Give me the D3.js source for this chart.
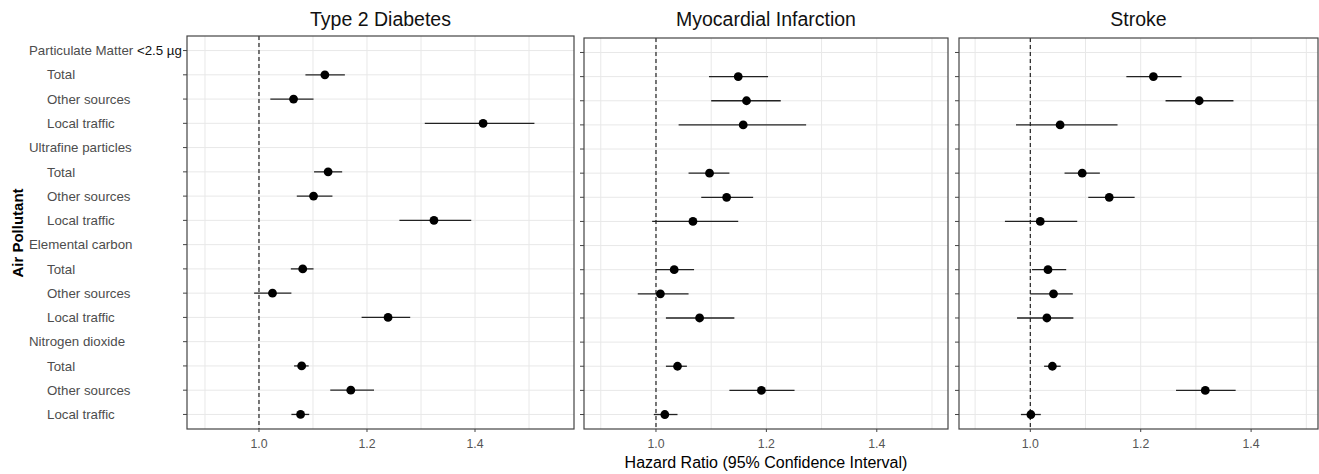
<!DOCTYPE html>
<html>
<head>
<meta charset="utf-8">
<script src="https://cdn.jsdelivr.net/npm/d3@7"></script>
<style>
  body { margin: 0; background: #fff; }
  svg { font-family: "Liberation Sans", Arial, sans-serif; }
</style>
</head>
<body>
<svg id="chart" width="1319" height="474"></svg>
<script>
// row labels
const pollutants = ["Particulate Matter <2.5 µg", "Ultrafine particles", "Elemental carbon", "Nitrogen dioxide"];
const sources = ["Total", "Other sources", "Local traffic"];
const outcomes = ["Type 2 Diabetes", "Myocardial Infarction", "Stroke"];
const xTicks = [1.0, 1.2, 1.4];
const xGrid = [0.9, 1.0, 1.1, 1.2, 1.3, 1.4, 1.5];

// hazard ratios, ordered pollutant by source (Total, Other, Local)
const t2dHR = [1.122, 1.064, 1.415, 1.128, 1.101, 1.324, 1.081, 1.025, 1.239, 1.079, 1.170, 1.077];
const t2dLo = [1.086, 1.021, 1.307, 1.102, 1.070, 1.260, 1.059, 0.991, 1.190, 1.065, 1.132, 1.060];
const t2dHi = [1.159, 1.101, 1.510, 1.154, 1.136, 1.393, 1.101, 1.060, 1.280, 1.092, 1.213, 1.093];

const miHR = [1.149, 1.164, 1.158, 1.097, 1.128, 1.067, 1.033, 1.008, 1.079, 1.039, 1.191, 1.016];
const miLo = [1.096, 1.100, 1.041, 1.059, 1.082, 0.993, 1.000, 0.967, 1.018, 1.018, 1.133, 0.996];
const miHi = [1.203, 1.226, 1.272, 1.133, 1.176, 1.149, 1.069, 1.059, 1.142, 1.056, 1.251, 1.039];

const strokeHR = [1.223, 1.306, 1.054, 1.094, 1.143, 1.018, 1.032, 1.042, 1.030, 1.040, 1.317, 1.001];
const strokeLo = [1.174, 1.245, 0.974, 1.062, 1.105, 0.954, 1.003, 1.000, 0.976, 1.025, 1.264, 0.983];
const strokeHi = [1.274, 1.368, 1.158, 1.126, 1.189, 1.085, 1.065, 1.077, 1.078, 1.055, 1.372, 1.019];

const series = [
    { hr: t2dHR, lo: t2dLo, hi: t2dHi },
    { hr: miHR, lo: miLo, hi: miHi },
    { hr: strokeHR, lo: strokeLo, hi: strokeHi }
];

// panel boxes (pixels) and x domains, the panels were scaled differently
const panels = [
    { left: 187, right: 574, top: 36, bottom: 429, domain: [0.8667, 1.5833] },
    { left: 584, right: 948, top: 38, bottom: 429, domain: [0.8696, 1.5290] },
    { left: 959, right: 1318, top: 38, bottom: 429, domain: [0.8708, 1.5212] }
];

// one row per pollutant header, then its three sources
let rows = [];
pollutants.forEach(p => {
    rows.push({ key: p, label: p, header: true });
    sources.forEach(s => rows.push({ key: p + "|" + s, label: s, header: false }));
});

let svg = d3.select("#chart");

panels.forEach((pn, k) => {
    let x = d3.scaleLinear().domain(pn.domain).range([pn.left, pn.right]);
    let y = d3.scalePoint().domain(rows.map(r => r.key)).range([pn.top, pn.bottom]).padding(0.6);

    let g = svg.append("g");

    // grid
    g.selectAll(".hgrid").data(rows).enter().append("line")
        .attr("x1", pn.left).attr("x2", pn.right)
        .attr("y1", d => y(d.key)).attr("y2", d => y(d.key))
        .style("stroke", "#e8e8e8").style("stroke-width", 1);
    g.selectAll(".vgrid").data(xGrid.filter(v => x(v) < pn.right)).enter().append("line")
        .attr("x1", d => x(d)).attr("x2", d => x(d))
        .attr("y1", pn.top).attr("y2", pn.bottom)
        .style("stroke", "#e8e8e8").style("stroke-width", 1);

    // reference line at 1
    g.append("line")
        .attr("x1", x(1)).attr("x2", x(1))
        .attr("y1", pn.top).attr("y2", pn.bottom)
        .style("stroke", "#222").style("stroke-width", 1.2)
        .style("stroke-dasharray", "4,3");

    // estimates
    let pts = [];
    pollutants.forEach((p, i) => {
        sources.forEach((s, j) => {
            let n = i * 3 + j;
            pts.push({ key: p + "|" + s, hr: series[k].hr[n], lo: series[k].lo[n], hi: series[k].hi[n] });
        });
    });

    g.selectAll(".ci").data(pts).enter().append("line")
        .attr("x1", d => x(d.lo)).attr("x2", d => x(d.hi))
        .attr("y1", d => y(d.key)).attr("y2", d => y(d.key))
        .style("stroke", "#222").style("stroke-width", 1.3);

    g.selectAll(".pt").data(pts).enter().append("circle")
        .attr("cx", d => x(d.hr)).attr("cy", d => y(d.key))
        .attr("r", 4.4)
        .style("fill", "#000");

    // border
    g.append("rect")
        .attr("x", pn.left).attr("y", pn.top)
        .attr("width", pn.right - pn.left).attr("height", pn.bottom - pn.top)
        .style("fill", "none").style("stroke", "#444").style("stroke-width", 1.2);

    // y ticks
    g.selectAll(".ytick").data(rows).enter().append("line")
        .attr("x1", pn.left - 4).attr("x2", pn.left)
        .attr("y1", d => y(d.key)).attr("y2", d => y(d.key))
        .style("stroke", "#444").style("stroke-width", 1);

    // x axis
    g.selectAll(".xtick").data(xTicks).enter().append("line")
        .attr("x1", d => x(d)).attr("x2", d => x(d))
        .attr("y1", pn.bottom).attr("y2", pn.bottom + 3)
        .style("stroke", "#444").style("stroke-width", 1);
    g.selectAll(".xlab").data(xTicks).enter().append("text")
        .attr("x", d => x(d)).attr("y", 448)
        .attr("text-anchor", "middle")
        .style("font-size", "12.3px").style("fill", "#555")
        .text(d => d.toFixed(1));

    // title
    g.append("text")
        .attr("x", (pn.left + pn.right) / 2).attr("y", 26)
        .attr("text-anchor", "middle")
        .style("font-size", "19.5px").style("fill", "#111")
        .text(outcomes[k]);

    // row labels only on the first panel
    if (k === 0) {
        let lab = g.selectAll(".ylab").data(rows).enter().append("text")
            .attr("x", d => d.header ? 29 : 47)
            .attr("y", d => y(d.key))
            .attr("dy", "0.35em")
            .style("font-size", "13.3px").style("fill", "#4d4d4d");
        lab.each(function(d) {
            let t = d3.select(this);
            let cut = d.label.indexOf("<");
            if (cut > 0) {
                t.append("tspan").text(d.label.slice(0, cut));
                t.append("tspan").style("fill", "#111").text(d.label.slice(cut));
            } else {
                t.text(d.label);
            }
        });
    }
});

// axis titles
svg.append("text")
    .attr("transform", "translate(23,233) rotate(-90)")
    .attr("text-anchor", "middle")
    .style("font-size", "15px").style("font-weight", "bold").style("fill", "#000")
    .text("Air Pollutant");

svg.append("text")
    .attr("x", (panels[1].left + panels[1].right) / 2).attr("y", 468)
    .attr("text-anchor", "middle")
    .style("font-size", "16px").style("fill", "#000")
    .text("Hazard Ratio (95% Confidence Interval)");
</script>
</body>
</html>
